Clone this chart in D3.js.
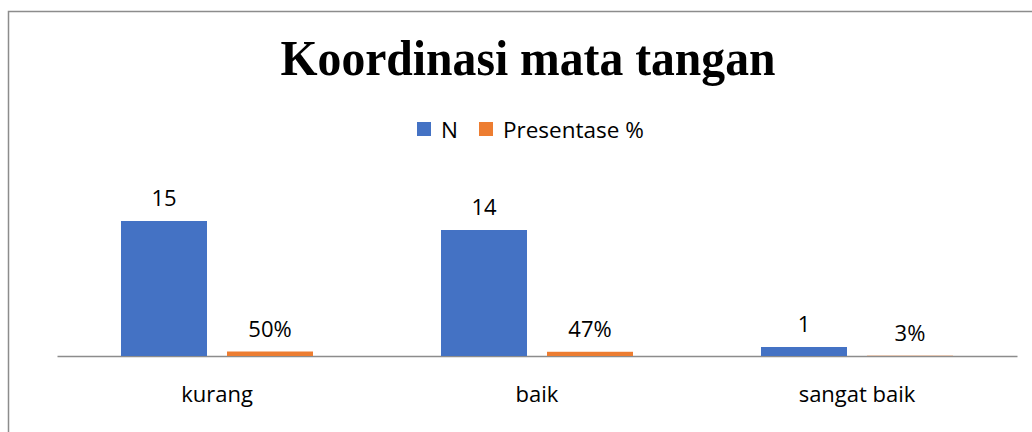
<!DOCTYPE html>
<html>
<head>
<meta charset="utf-8">
<script src="https://cdn.jsdelivr.net/npm/d3@7"></script>
<style>
  body { margin: 0; background: #fff; }
  text { font-family: "Open Sans", sans-serif; fill: #000; }
</style>
</head>
<body>
<svg id="chart" width="1032" height="432"></svg>
<script>
// data
const categories = ["kurang", "baik", "sangat baik"];
const seriesNames = ["N", "Presentase %"];
const nValues = [15, 14, 1];
const pctValues = [0.50, 0.47, 0.03];
const pctLabels = ["50%", "47%", "3%"];

const colors = ["#4472C4", "#ED7D31"];

const margin = { top: 212, left: 57, right: 15, bottom: 76 };
const W = 1032, H = 432;
const plotW = W - margin.left - margin.right;
const plotH = H - margin.top - margin.bottom;

const svg = d3.select("#chart");

// chart area border (runs off the right/bottom edge like the original)
svg.append("rect")
    .attr("x", 8.5).attr("y", 11.5)
    .attr("width", 1100).attr("height", 600)
    .attr("fill", "none")
    .attr("stroke", "#8c8c8c")
    .attr("stroke-width", 1.5);

// title
svg.append("text")
    .attr("x", 528).attr("y", 75)
    .attr("text-anchor", "middle")
    .attr("textLength", 495)
    .attr("lengthAdjust", "spacingAndGlyphs")
    .style("font-family", "'Liberation Serif', serif")
    .style("font-weight", "bold")
    .style("font-size", "50px")
    .text("Koordinasi mata tangan");

// legend
const legend = svg.append("g");
const legendItems = [
    { name: seriesNames[0], x: 417 },
    { name: seriesNames[1], x: 479 }
];
legendItems.forEach((d, i) => {
    legend.append("rect")
        .attr("x", d.x).attr("y", 122)
        .attr("width", 14).attr("height", 14)
        .attr("fill", colors[i]);
    legend.append("text")
        .attr("x", d.x + 24).attr("y", 138)
        .style("font-size", "22.5px")
        .text(d.name);
});

const g = svg.append("g")
    .attr("transform", "translate(" + margin.left + "," + margin.top + ")");

const x0 = d3.scaleBand()
    .domain(categories)
    .range([0, plotW])
    .paddingInner(0)
    .paddingOuter(0);

// inner band: two bars of 86px with a 20px gap, 64px padding each side
const x1 = d3.scaleBand()
    .domain(seriesNames)
    .range([64, x0.bandwidth() - 64])
    .paddingInner(20 / 106);

const y = d3.scaleLinear()
    .domain([0, 16])
    .range([plotH, 0]);

// baseline + category labels (drawn first so the bars sit on top)
const xAxis = g.append("g")
    .attr("transform", "translate(0," + plotH + ")")
    .call(d3.axisBottom(x0).tickSize(0).tickPadding(30));
xAxis.select(".domain").attr("stroke", "#8c8c8c").attr("stroke-width", 1.5);
xAxis.selectAll("text")
    .style("font-family", "'Open Sans', sans-serif")
    .style("font-size", "22px")
    .attr("fill", "#000");

const rows = categories.map((c, i) => ({
    cat: c,
    vals: [
        { s: seriesNames[0], v: nValues[i], label: String(nValues[i]) },
        { s: seriesNames[1], v: pctValues[i], label: pctLabels[i] }
    ]
}));

const grp = g.selectAll(".grp")
    .data(rows)
    .enter()
    .append("g")
    .attr("transform", d => "translate(" + x0(d.cat) + ",0)");

grp.selectAll("rect")
    .data(d => d.vals)
    .enter()
    .append("rect")
    .attr("x", d => x1(d.s))
    .attr("y", d => y(d.v))
    .attr("width", x1.bandwidth())
    .attr("height", d => plotH - y(d.v))
    .attr("fill", (d, i) => colors[i]);

grp.selectAll(".lbl")
    .data(d => d.vals)
    .enter()
    .append("text")
    .attr("class", "lbl")
    .attr("x", d => x1(d.s) + x1.bandwidth() / 2)
    .attr("y", d => y(d.v) - 15)
    .attr("text-anchor", "middle")
    .style("font-size", "22px")
    .text(d => d.label);
</script>
</body>
</html>
